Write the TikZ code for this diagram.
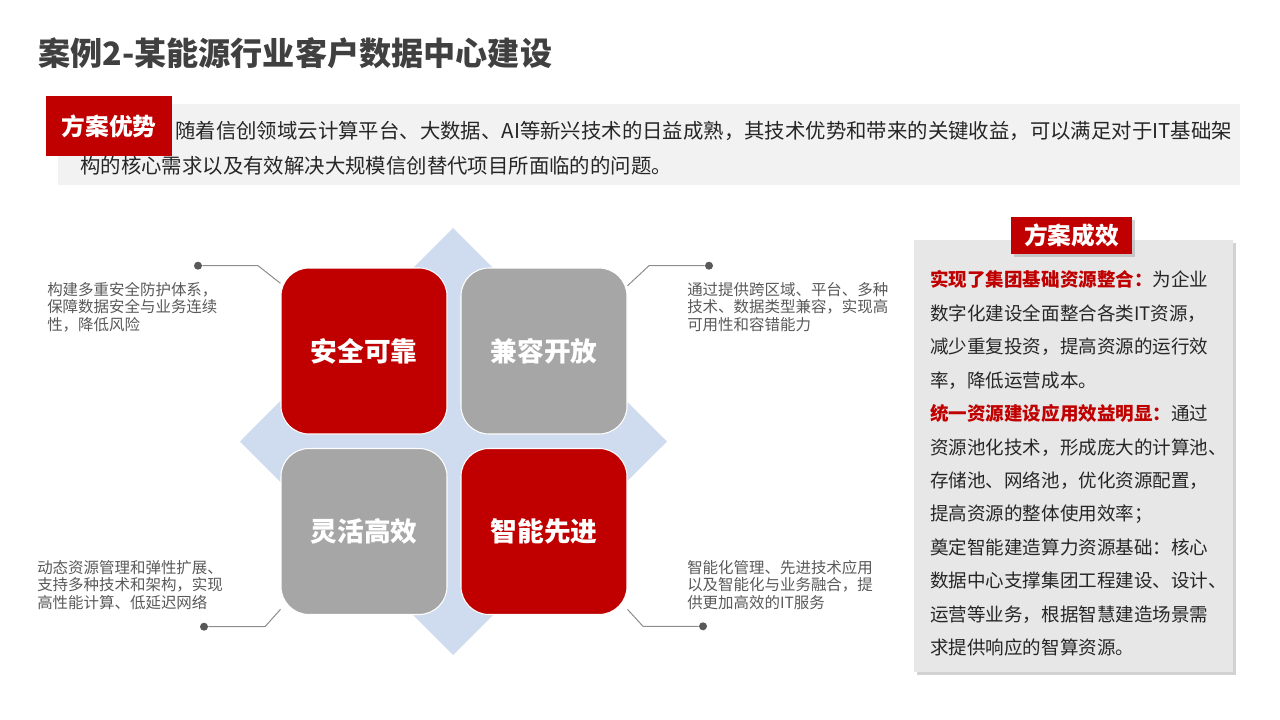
\documentclass[tikz,border=0pt]{standalone}
\usepackage{fontspec}
\setmainfont{Noto Sans CJK SC}
\usetikzlibrary{shadows, backgrounds}

\definecolor{casered}{HTML}{C00000}
\definecolor{tilegray}{HTML}{A6A6A6}
\definecolor{diamondblue}{HTML}{CFDBEE}
\definecolor{bandgray}{HTML}{F2F2F2}
\definecolor{panelgray}{HTML}{E7E7E7}
\definecolor{titlegray}{HTML}{404040}
\definecolor{bodyblack}{HTML}{262626}
\definecolor{notegray}{HTML}{595959}
\definecolor{wiregray}{HTML}{8C8C8C}

\tikzset{
  tilebox/.style={shape=rectangle, draw=white, line width=0.8pt, rounded corners=21pt,
    minimum width=124.5pt, minimum height=124.5pt, text=white,
    font=\bfseries\fontsize{20}{24}\selectfont},
  tagbox/.style={shape=rectangle, fill=casered, text=white, inner sep=0pt,
    font=\bfseries\fontsize{17.8}{21}\selectfont},
  note/.style={anchor=west, align=left, inner sep=0pt, text=notegray,
    font=\fontsize{11.6}{13.2}\selectfont},
  bandtext/.style={anchor=west, inner sep=0pt, text=bodyblack,
    font=\fontsize{15.3}{18}\selectfont},
  wire/.style={draw=wiregray, line width=0.75pt},
  enddot/.style={shape=circle, fill=notegray, minimum size=6pt, inner sep=0pt},
}

\begin{document}
\begin{tikzpicture}[x=0.75pt, y=-0.75pt]
	\useasboundingbox (0,0) rectangle (1280,720);
	% Title and intro band:
	\node[anchor=west, inner sep=0pt, text=titlegray, font=\bfseries\fontsize{24.1}{28}\selectfont] (title) at (38, 53){案例2-某能源行业客户数据中心建设};
	\fill[bandgray] (58, 104) rectangle (1240, 185);
	\node[tagbox, minimum width=94.5pt, minimum height=45pt] (advtag) at (109, 126){方案优势};
	\node[bandtext] (band1) at (175, 131){随着信创领域云计算平台、大数据、AI等新兴技术的日益成熟，其技术优势和带来的关键收益，可以满足对于IT基础架};
	\node[bandtext] (band2) at (80, 166){构的核心需求以及有效解决大规模信创替代项目所面临的的问题。};
	% Tiles:
	\node[tilebox, fill=casered] (safe) at (364, 351){安全可靠};
	\node[tilebox, fill=tilegray] (compat) at (544, 351){兼容开放};
	\node[tilebox, fill=tilegray] (flex) at (364, 531.5){灵活高效};
	\node[tilebox, fill=casered] (smart) at (544, 531.5){智能先进};
	% Dots and wires:
	\node[enddot] (dotsafe) at (198, 265.7){};
	\node[enddot] (dotcompat) at (709, 265.7){};
	\node[enddot] (dotflex) at (204, 626.7){};
	\node[enddot] (dotsmart) at (703, 626.3){};
	\coordinate (elbsafe) at (258, 265.7);
	\coordinate (elbcompat) at (649, 265.7);
	\coordinate (elbflex) at (265, 626.7);
	\coordinate (elbsmart) at (643, 626.3);
	\begin{scope}[on background layer]
		\fill[diamondblue] (453, 228) -- (667, 441.5) -- (453, 655) -- (240, 441.5) -- cycle;
		\draw[wire] (dotsafe) -- (elbsafe) -- (safe.141.5);
		\draw[wire] (dotcompat) -- (elbcompat) -- (compat.38.5);
		\draw[wire] (dotflex) -- (elbflex) -- (flex.223);
		\draw[wire] (dotsmart) -- (elbsmart) -- (smart.317);
	\end{scope}
	% Notes:
	\node[note] (notesafe) at (47, 307){构建多重安全防护体系，\\保障数据安全与业务连续\\性，降低风险};
	\node[note] (notecompat) at (687, 307){通过提供跨区域、平台、多种\\技术、数据类型兼容，实现高\\可用性和容错能力};
	\node[note] (noteflex) at (37, 585){动态资源管理和弹性扩展、\\支持多种技术和架构，实现\\高性能计算、低延迟网络};
	\node[note] (notesmart) at (687, 585){智能化管理、先进技术应用\\以及智能化与业务融合，提\\供更加高效的IT服务};
	% Result panel:
	\node[shape=rectangle, fill=panelgray, minimum width=239.25pt, minimum height=324pt, inner sep=0pt,
		drop shadow={shadow xshift=2.5pt, shadow yshift=-2.5pt, fill=black!35}] (panel) at (1073.5, 456){};
	\node[tagbox, minimum width=90.75pt, minimum height=27.75pt,
		drop shadow={shadow xshift=2pt, shadow yshift=-2pt, fill=black!35}] (gaintag) at (1071.5, 235.5){方案成效};
	\node[anchor=west, align=left, inner sep=0pt, text=bodyblack, font=\fontsize{13.9}{25.1}\selectfont] (gains) at (930, 463.5){%
		{\bfseries\color{casered}实现了集团基础资源整合：}为企业\\
		数字化建设全面整合各类IT资源，\\
		减少重复投资，提高资源的运行效\\
		率，降低运营成本。\\
		{\bfseries\color{casered}统一资源建设应用效益明显：}通过\\
		资源池化技术，形成庞大的计算池、\\
		存储池、网络池，优化资源配置，\\
		提高资源的整体使用效率；\\
		奠定智能建造算力资源基础：核心\\
		数据中心支撑集团工程建设、设计、\\
		运营等业务，根据智慧建造场景需\\
		求提供响应的智算资源。};
\end{tikzpicture}
\end{document}
